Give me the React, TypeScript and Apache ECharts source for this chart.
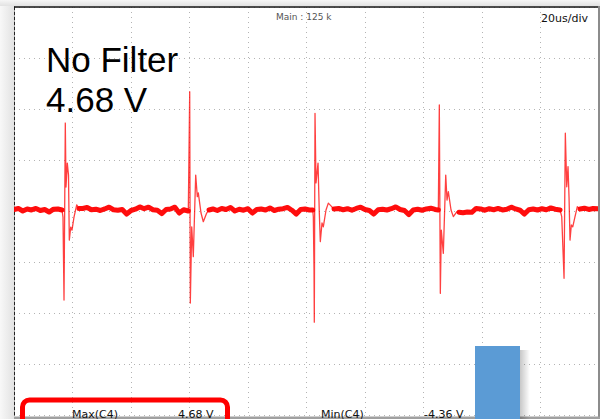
import React, { useEffect, useRef } from "react";
import * as echarts from "echarts";

// time in microseconds (20 us/div, 10 div), voltage in volts (2 V/div, 8 div)
const X_MIN = 0;
const X_MAX = 200;
const X_STEP = 20;
const Y_MIN = -8;
const Y_MAX = 8;
const Y_STEP = 2;

// quiet (noisy) baseline segments between switching spikes: [t(us), V]
const baselineA = [[0,0.06],[1.5,0.1],[3,0.0],[4.5,0.08],[6,0.04],[7.5,0.1],[9,0.02],[10.5,0.06],[12,-0.04],[13.5,0.07],[15,0.08],[16.41,0.04]];
const baselineB = [[22.22,0.1],[23.5,0.1],[25,0.14],[26.5,0.05],[28,0.07],[29.5,0.02],[31,0.08],[32.5,0.15],[34,0.05],[35.5,0.03],[37,0.06],[38.5,-0.12],[40,0.02],[41.5,0.07],[43,0.16],[44.5,0.09],[46,0.15],[47.5,0.05],[49,0.03],[50.5,-0.1],[52,0.06],[53.5,0.08],[55,0.15],[56.5,-0.08],[58,0.05],[59.59,0.0]];
const baselineC = [[66.67,0.04],[68,0.08],[69.5,0.02],[71,0.1],[72.5,0.06],[74,0.14],[75.5,0.0],[77,0.07],[78.5,0.03],[80,0.09],[81.5,-0.08],[83,0.06],[84.5,0.08],[86,0.04],[87.5,0.12],[89,0.02],[90.5,0.07],[92,0.09],[93.5,0.14],[95,0.03],[96.5,-0.12],[98,0.06],[99.5,0.08],[101,0.04],[102.13,0.04]];
const baselineD = [[109.41,0.08],[111,0.1],[112.5,0.05],[114,0.09],[115.5,0.03],[117,0.1],[118.5,0.15],[120,0.06],[121.5,0.02],[123,-0.12],[124.5,0.05],[126,0.07],[127.5,0.04],[129,0.09],[130.5,0.16],[132,0.06],[133.5,0.02],[135,-0.14],[136.5,0.04],[138,0.07],[139.5,0.03],[141,0.08],[142.5,0.11],[144,0.06],[145.07,0.04]];
const baselineE = [[152.14,-0.05],[153.5,-0.07],[155,-0.04],[156.5,-0.05],[158,0.1],[159.5,0.08],[161,0.03],[162.5,0.09],[164,0.05],[165.5,0.1],[167,0.04],[168.5,0.07],[170,0.15],[171.5,0.08],[173,0.03],[174.5,-0.12],[176,0.05],[177.5,0.08],[179,0.04],[180.5,0.09],[182,0.05],[183.5,0.12],[185,0.07],[186.7,0.04]];
const baselineF = [[193.51,0.08],[195,0.11],[196.5,0.06],[198,0.1],[199.7,0.09]];

// switching spikes: [t(us), V]
const spike1 = [[16.41,0.04],[16.75,-0.24],[17.1,-3.49],[17.54,3.45],[17.78,0.94],[18.22,1.88],[18.63,1.41],[18.91,-1.14],[19.39,-0.63],[19.83,-0.75],[20.51,-0.24],[21.44,0.24],[22.22,0.1]];
const spike2 = [[59.59,0.0],[60.07,4.68],[60.28,-3.61],[60.76,-0.62],[61.3,-1.79],[62.12,1.41],[62.67,0.56],[63.01,0.71],[63.94,-0.08],[64.72,-0.42],[65.88,-0.08],[66.67,0.04]];
const spike3 = [[102.13,0.04],[102.33,-0.22],[102.57,-2.31],[102.67,-4.36],[102.91,3.83],[103.25,1.1],[103.94,1.88],[104.38,-0.08],[104.72,-1.2],[105.3,-0.47],[105.75,-0.62],[106.67,0.04],[107.46,0.31],[108.62,0.17],[109.41,0.08]];
const spike4 = [[145.07,0.04],[145.41,4.16],[145.75,-3.23],[146.09,-0.75],[146.78,-1.66],[147.6,1.41],[148.04,0.43],[148.49,0.76],[149.41,0.04],[150.2,-0.22],[151.36,-0.03],[152.14,-0.05]];
const spike5 = [[186.7,0.04],[187.26,-0.22],[188.05,-2.64],[188.49,3.05],[188.97,0.95],[189.41,1.74],[189.75,0.56],[190.09,-1.14],[190.54,-0.55],[191.02,-0.62],[191.8,-0.22],[192.59,0.17],[193.51,0.08]];

const baselines = [baselineA, baselineB, baselineC, baselineD, baselineE, baselineF];
const spikes = [spike1, spike2, spike3, spike4, spike5];

// texts
const titleLines = ["No Filter", "4.68 V"];
const headerText = "Main : 125 k";
const timebaseText = "20us/div";
const measLabels = ["Max(C4)", "4.68 V", "Min(C4)", "-4.36 V"];

export default function App() {
  const ref = useRef<HTMLDivElement>(null);

  useEffect(() => {
    if (!ref.current) return;
    const chart = echarts.init(ref.current, null, { renderer: "svg" });

    const gridLine = { show: true, lineStyle: { color: "#b4b4b4", width: 1, type: [1, 4] as any } };

    const series: any[] = [];
    baselines.forEach((seg, i) => {
      series.push({
        type: "line",
        name: "base" + i,
        data: seg,
        showSymbol: false,
        symbol: "none",
        smooth: false,
        lineStyle: { color: "#ff0000", width: 5, join: "round", cap: "round", opacity: 0.95 },
        z: 3,
        silent: true,
      });
    });
    spikes.forEach((seg, i) => {
      series.push({
        type: "line",
        name: "spike" + i,
        data: seg,
        showSymbol: false,
        symbol: "none",
        lineStyle: { color: "rgba(255,0,0,0.75)", width: 1.3, join: "round" },
        z: 4,
        silent: true,
      });
    });

    const meas = {
      fontFamily: "DejaVu Sans",
      fontSize: 11,
      fill: "#111",
      verticalAlign: "middle",
    };

    chart.setOption({
      animation: false,
      backgroundColor: "#ffffff",
      grid: { left: 14, top: 7, width: 585, height: 408, containLabel: false },
      xAxis: {
        type: "value",
        min: X_MIN,
        max: X_MAX,
        interval: X_STEP,
        position: "top",
        axisLine: { show: true, onZero: false, lineStyle: { color: "#111", width: 1.5 } },
        axisTick: { show: false },
        axisLabel: { show: false },
        splitLine: gridLine,
      },
      yAxis: {
        type: "value",
        min: Y_MIN,
        max: Y_MAX,
        interval: Y_STEP,
        position: "left",
        axisLine: { show: true, onZero: false, lineStyle: { color: "#222", width: 1, type: [3, 2] } },
        axisTick: { show: false },
        axisLabel: { show: false },
        splitLine: gridLine,
      },
      series,
      graphic: [
        {
          type: "rect",
          shape: { x: 0, y: 0, width: 14, height: 419 },
          style: {
            fill: new echarts.graphic.LinearGradient(0, 0, 1, 0, [
              { offset: 0, color: "#f8f8f8" },
              { offset: 1, color: "#e2e2e2" },
            ]),
          },
          z: 50,
        },
        {
          type: "rect",
          shape: { x: 0, y: 0, width: 600, height: 6 },
          style: {
            fill: new echarts.graphic.LinearGradient(0, 0, 0, 1, [
              { offset: 0, color: "#f6f6f6" },
              { offset: 1, color: "#e2e2e2" },
            ]),
          },
          z: 50,
        },
        {
          type: "rect",
          shape: { x: 598, y: 6, width: 2, height: 413 },
          style: { fill: "#8c8c8c" },
          z: 50,
        },
        {
          type: "rect",
          shape: { x: 14, y: 416.5, width: 586, height: 2.5 },
          style: { fill: "#a0a0a0" },
          z: 50,
        },
        {
          type: "text",
          style: {
            text: headerText,
            x: 276,
            y: 17,
            fontFamily: "DejaVu Sans",
            fontSize: 9,
            fill: "#555",
            verticalAlign: "middle",
          },
          z: 60,
        },
        {
          type: "text",
          style: {
            text: timebaseText,
            x: 541,
            y: 18,
            fontFamily: "DejaVu Sans",
            fontSize: 11,
            fill: "#111",
            verticalAlign: "middle",
          },
          z: 60,
        },
        {
          type: "text",
          style: {
            text: titleLines[0],
            x: 46,
            y: 59,
            fontFamily: "Liberation Sans",
            fontSize: 35,
            fill: "#000",
            verticalAlign: "middle",
          },
          z: 60,
        },
        {
          type: "text",
          style: {
            text: titleLines[1],
            x: 46,
            y: 99,
            fontFamily: "Liberation Sans",
            fontSize: 35,
            fill: "#000",
            verticalAlign: "middle",
          },
          z: 60,
        },
        {
          type: "rect",
          shape: { x: 520, y: 350, width: 10, height: 69 },
          style: {
            fill: new echarts.graphic.LinearGradient(0, 0, 1, 0, [
              { offset: 0, color: "rgba(0,0,0,0.22)" },
              { offset: 1, color: "rgba(0,0,0,0)" },
            ]),
          },
          z: 69,
        },
        {
          type: "rect",
          shape: { x: 475, y: 346, width: 45, height: 73 },
          style: { fill: "#5b9bd5" },
          z: 70,
        },
        {
          type: "rect",
          shape: { x: 22.5, y: 400, width: 205, height: 30, r: 7 },
          style: { fill: "rgba(0,0,0,0)", stroke: "#ff0000", lineWidth: 5 },
          z: 70,
        },
        { type: "text", style: { ...meas, text: measLabels[0], x: 72, y: 414 }, z: 71 },
        { type: "text", style: { ...meas, text: measLabels[1], x: 178, y: 414 }, z: 71 },
        { type: "text", style: { ...meas, text: measLabels[2], x: 321, y: 414 }, z: 71 },
        { type: "text", style: { ...meas, text: measLabels[3], x: 424, y: 414 }, z: 71 },
      ],
    });

    return () => chart.dispose();
  }, []);

  return (
    <div style={{ position: "absolute", left: 0, top: 0, width: 600, height: 419, background: "#fff" }}>
      <div ref={ref} style={{ width: 600, height: 419 }} />
    </div>
  );
}
